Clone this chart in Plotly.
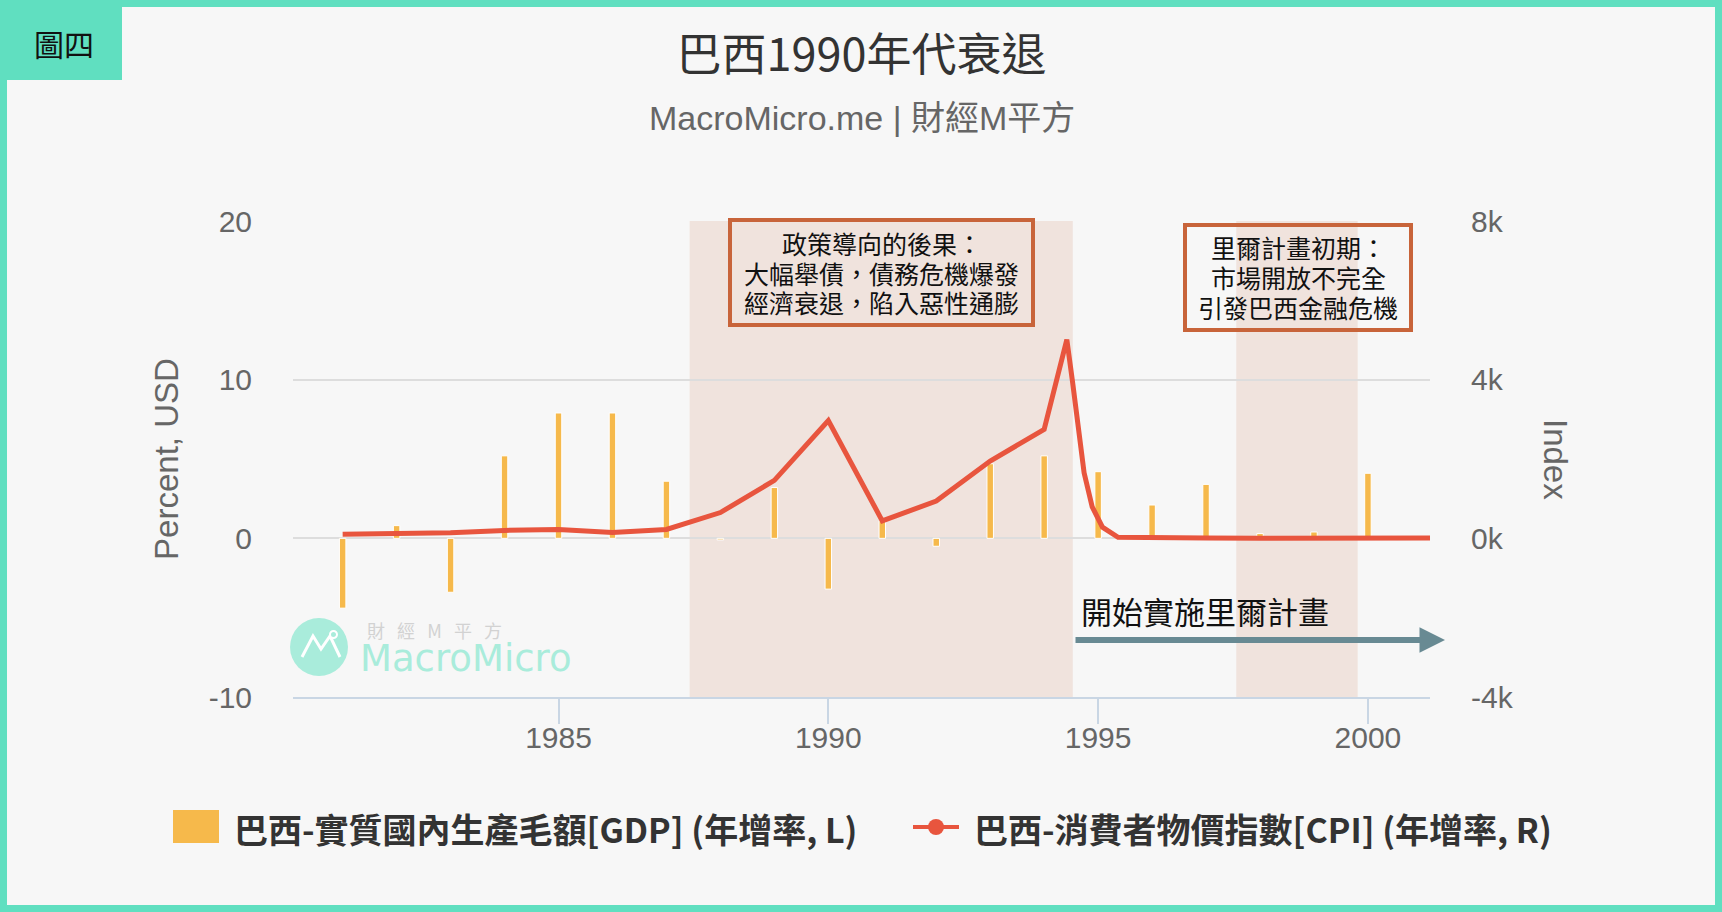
import plotly.graph_objects as go

# Brazil, annual real GDP growth (%), left axis
gdp_years = [1981, 1982, 1983, 1984, 1985, 1986, 1987, 1988, 1989, 1990,
             1991, 1992, 1993, 1994, 1995, 1996, 1997, 1998, 1999, 2000]
gdp_growth = [-4.4, 0.8, -3.4, 5.2, 7.9, 7.9, 3.6, -0.1, 3.2, -3.2,
              1.1, -0.5, 4.7, 5.2, 4.2, 2.1, 3.4, 0.3, 0.4, 4.1]

# Brazil CPI inflation (% yoy), right axis; denser points around the 1994 peak
cpi_time = [1981, 1982, 1983, 1984, 1985, 1986, 1987, 1988, 1989, 1990,
            1991, 1992, 1993, 1994, 1994.42, 1994.53, 1994.64, 1994.74,
            1994.89, 1995.08, 1995.37, 1995.6, 1996, 1997, 1998, 1999,
            2000, 2001, 2002]
cpi_yoy = [100, 105, 140, 200, 225, 150, 225, 650, 1460, 2970,
           440, 940, 1950, 2745, 5010, 3900, 2760, 1650,
           795, 282, 26, 20, 16, 7, 3, 5,
           7, 8, 12]

# shaded periods
bands = [(1987.43, 1994.53), (1997.56, 1999.81)]

x_ticks = [1985, 1990, 1995, 2000]
left_ticks = [-10, 0, 10, 20]
left_labels = ["-10", "0", "10", "20"]
right_ticks = [-4000, 0, 4000, 8000]
right_labels = ["-4k", "0k", "4k", "8k"]

title = "巴西1990年代衰退"
subtitle = "MacroMicro.me | 財經M平方"
gdp_name = "巴西-實質國內生產毛額[GDP] (年增率, L)"
cpi_name = "巴西-消費者物價指數[CPI] (年增率, R)"
note_1 = ["政策導向的後果：", "大幅舉債，債務危機爆發", "經濟衰退，陷入惡性通膨"]
note_2 = ["里爾計畫初期：", "市場開放不完全", "引發巴西金融危機"]
note_3 = "開始實施里爾計畫"
watermark_top = "\u00a0\u00a0\u00a0".join(["財", "經", "M", "平", "方"])

W, H = 1722, 912
L, R, T, B = 293, 1430, 221, 697

BAR = "#f6b94b"
LINE = "#e8553e"
TEAL = "#60dfc0"
BOX = "#c8643a"
CJK = "Noto Sans CJK TC"
LAT = "Liberation Sans, Noto Sans CJK TC"


def px(x):
    return (x - L) / (R - L)


def py(y):
    return (B - y) / (B - T)


def label(text, x, y, size, color="#111111", family=CJK, xanchor="center", **kw):
    return dict(text=text, xref="paper", yref="paper", x=px(x), y=py(y),
                xanchor=xanchor, yanchor="middle", showarrow=False,
                font=dict(family=family, size=size, color=color), **kw)


def box(x0, y0, x1, y1, **kw):
    d = dict(type="rect", xref="paper", yref="paper",
             x0=px(x0), x1=px(x1), y0=py(y1), y1=py(y0))
    d.update(kw)
    return d


fig = go.Figure()

fig.add_trace(go.Bar(
    x=gdp_years, y=gdp_growth, name=gdp_name, width=0.12,
    marker=dict(color=BAR, line=dict(color="white", width=1)),
    yaxis="y",
))
fig.add_trace(go.Scatter(
    x=cpi_time, y=cpi_yoy, name=cpi_name, mode="lines",
    line=dict(color=LINE, width=5), yaxis="y2",
))

shapes = []
for x0, x1 in bands:
    shapes.append(dict(type="rect", xref="x", yref="paper", x0=x0, x1=x1, y0=0, y1=1,
                       fillcolor="#f0e3dd", line=dict(width=0), layer="below"))

# outer frame and corner label box
shapes.append(box(3.5, 3.5, W - 3.5, H - 3.5, line=dict(color=TEAL, width=7)))
shapes.append(box(0, 0, 122, 80, fillcolor=TEAL, line=dict(width=0)))

# note boxes
shapes.append(box(730, 220, 1033, 325, line=dict(color=BOX, width=4)))
shapes.append(box(1185, 225, 1411, 330, line=dict(color=BOX, width=4)))

# watermark logo
shapes.append(box(290, 618, 348, 676, type="circle", fillcolor="#a9ecdb",
                  line=dict(width=0), layer="below"))
pts = [(302, 657), (313, 636), (321, 649), (330, 636), (340, 657)]
path = "M " + " L ".join(f"{px(a):.5f},{py(b):.5f}" for a, b in pts)
shapes.append(dict(type="path", xref="paper", yref="paper", path=path,
                   line=dict(color="white", width=3), layer="below"))
shapes.append(box(330, 631, 337, 638, type="circle", fillcolor="#a9ecdb",
                  line=dict(color="white", width=2), layer="below"))

# legend (drawn by hand to get the large symbols)
shapes.append(box(173, 810, 219, 843, fillcolor=BAR, line=dict(width=0)))
shapes.append(dict(type="line", xref="paper", yref="paper",
                   x0=px(913), x1=px(959), y0=py(827), y1=py(827),
                   line=dict(color=LINE, width=4)))
shapes.append(box(928, 819, 944, 835, type="circle", fillcolor=LINE,
                  line=dict(width=0)))

annotations = [
    label(subtitle, 861.5, 118, 34, color="#666666", family=LAT),
    label("圖四", 64, 43, 30),
    label(note_3, 1079, 610, 31, xanchor="left"),
    dict(text="", xref="paper", yref="paper", x=px(1445), y=py(640),
         ax=-371, ay=0, showarrow=True, arrowhead=2, arrowsize=0.85,
         arrowwidth=6, arrowcolor="#688a93"),
    label("Index", 1556, 459, 33, color="#666666", family=LAT, textangle=90),
    label(watermark_top, 365, 630, 18, color="#d2d2d2", xanchor="left"),
    label("MacroMicro", 358, 658, 37, color="#a9ecdb", family="DejaVu Sans",
          xanchor="left"),
    label("<b>" + gdp_name + "</b>", 232, 828, 34, color="#333333", xanchor="left"),
    label("<b>" + cpi_name + "</b>", 972, 828, 34, color="#333333", xanchor="left"),
]
for line_text, y in zip(note_1, [243, 273, 302]):
    annotations.append(label(line_text, 881.5, y, 25))
for line_text, y in zip(note_2, [247, 277, 307]):
    annotations.append(label(line_text, 1298, y, 25))

fig.update_layout(
    width=W, height=H, autosize=False,
    margin=dict(l=L, r=W - R, t=T, b=H - B, pad=0),
    paper_bgcolor="#f7f7f7", plot_bgcolor="#f7f7f7",
    showlegend=False,
    title=dict(text=title, x=0.5, xref="paper", y=1 - 55 / H, yref="container",
               xanchor="center", yanchor="middle",
               font=dict(family=CJK, size=45, color="#333333")),
    xaxis=dict(range=[1980.08, 2001.15], tickvals=x_ticks, showgrid=False,
               zeroline=False, showline=True, linecolor="#c9d6e4", linewidth=2,
               ticks="outside", ticklen=25, tickwidth=2, tickcolor="#c9d6e4",
               ticklabelstandoff=-12,
               tickfont=dict(family=LAT, size=30, color="#666666")),
    yaxis=dict(range=[-10, 20], tickvals=left_ticks, ticktext=left_labels,
               showgrid=True, gridcolor="#dddddd", gridwidth=2, zeroline=False,
               ticklabelstandoff=40,
               tickfont=dict(family=LAT, size=30, color="#666666"),
               title=dict(text="Percent, USD", standoff=20,
                          font=dict(family=LAT, size=33, color="#666666"))),
    yaxis2=dict(range=[-4000, 8000], tickvals=right_ticks, ticktext=right_labels,
                overlaying="y", side="right", showgrid=False, zeroline=False,
                ticklabelstandoff=40,
                tickfont=dict(family=LAT, size=30, color="#666666")),
    shapes=shapes,
    annotations=annotations,
)

fig.write_html("out.html", config={"displayModeBar": False},
               post_script="document.body.style.margin='0';document.body.style.overflow='hidden';")
